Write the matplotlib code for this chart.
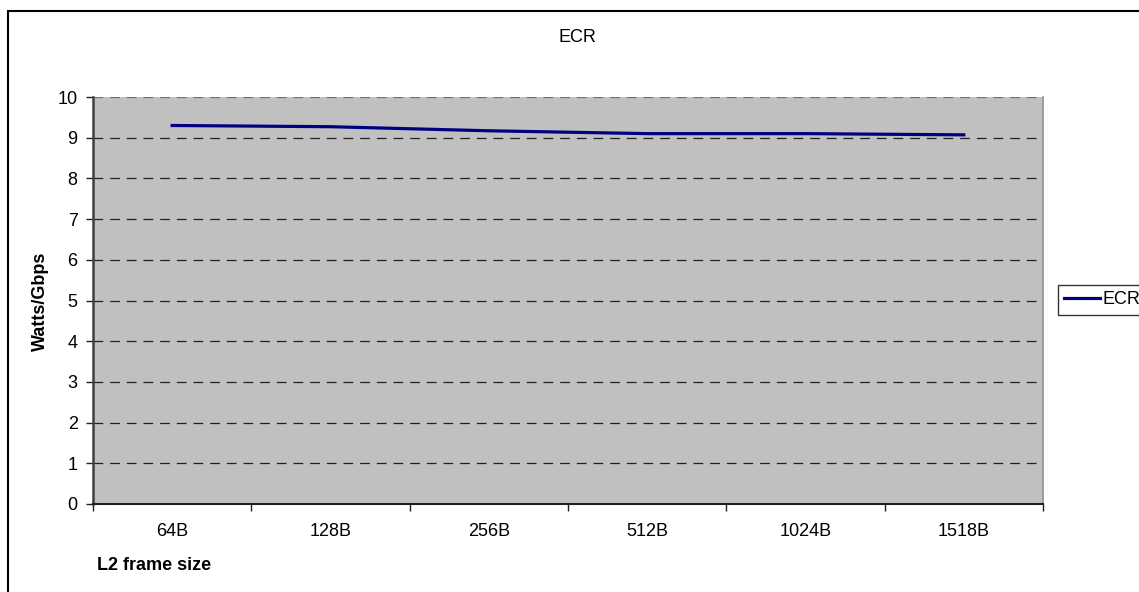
import matplotlib
matplotlib.use("Agg")
import matplotlib.pyplot as plt
from matplotlib.patches import Rectangle

# ---------------------------------------------------------------------------
# Data
# ---------------------------------------------------------------------------
frame_sizes = ["64B", "128B", "256B", "512B", "1024B", "1518B"]
ecr_values = [9.30, 9.27, 9.17, 9.10, 9.10, 9.07]
y_ticks = [0, 1, 2, 3, 4, 5, 6, 7, 8, 9, 10]

plt.rcParams["font.family"] = ["Liberation Sans", "DejaVu Sans"]
plt.rcParams["lines.scale_dashes"] = False

W, H = 1139, 592
fs = 13
fig = plt.figure(figsize=(W / 100, H / 100), dpi=100)
fig.patch.set_facecolor("white")

# outer chart border (clipped at right / bottom like the original)
fig.patches.append(Rectangle((8 / W, -0.05), 1.2, 1 - 11 / H + 0.05,
                             transform=fig.transFigure, fill=False,
                             edgecolor="black", linewidth=1.5))

ax = fig.add_axes([93 / W, 1 - 504 / H, (1043 - 93) / W, (504 - 97) / H])
ax.set_facecolor("#C0C0C0")

x = list(range(len(frame_sizes)))
ax.plot(x, ecr_values, color="#000080", lw=2.3, label="ECR", zorder=3)

# dashed gridlines
for v in y_ticks[1:]:
    ax.axhline(v, color="#202020" if v < 10 else "#707070", lw=0.9,
               dashes=(7, 5), zorder=2)

ax.set_xlim(-0.5, len(frame_sizes) - 0.5)
ax.set_ylim(0, 10)
ax.set_yticks(y_ticks)
ax.set_xticks(x)
ax.set_xticklabels(frame_sizes)
ax.set_xticks([i - 0.5 for i in range(len(frame_sizes) + 1)], minor=True)

ax.tick_params(axis="x", which="major", length=0, pad=14, labelsize=fs)
ax.tick_params(axis="x", which="minor", length=5, width=1, color="#202020",
               direction="out")
ax.tick_params(axis="y", length=5, width=1, color="#202020", pad=6,
               labelsize=fs, direction="out")

ax.spines["left"].set_color("#404040")
ax.spines["left"].set_linewidth(1.8)
ax.spines["bottom"].set_color("#202020")
ax.spines["bottom"].set_linewidth(1.5)
ax.spines["right"].set_color("#909090")
ax.spines["right"].set_linewidth(1.2)
ax.spines["top"].set_visible(False)

fig.text(577 / W, 1 - 38 / H, "ECR", ha="center", va="center", fontsize=fs)
fig.text(97 / W, 1 - 566 / H, "L2 frame size", ha="left", va="center",
         fontsize=fs, fontweight="bold")
fig.text(40 / W, 1 - 301 / H, "Watts/Gbps", ha="center", va="center",
         rotation=90, fontsize=fs, fontweight="bold")

leg = fig.legend(loc="center left", bbox_to_anchor=(1058 / W, 1 - 300 / H),
                 fontsize=fs, frameon=True, fancybox=False, handlelength=2.0,
                 handletextpad=0.1, borderpad=0.35, borderaxespad=0)
leg.get_frame().set_edgecolor("black")
leg.get_frame().set_linewidth(1.0)

fig.savefig("out.png", dpi=100)
